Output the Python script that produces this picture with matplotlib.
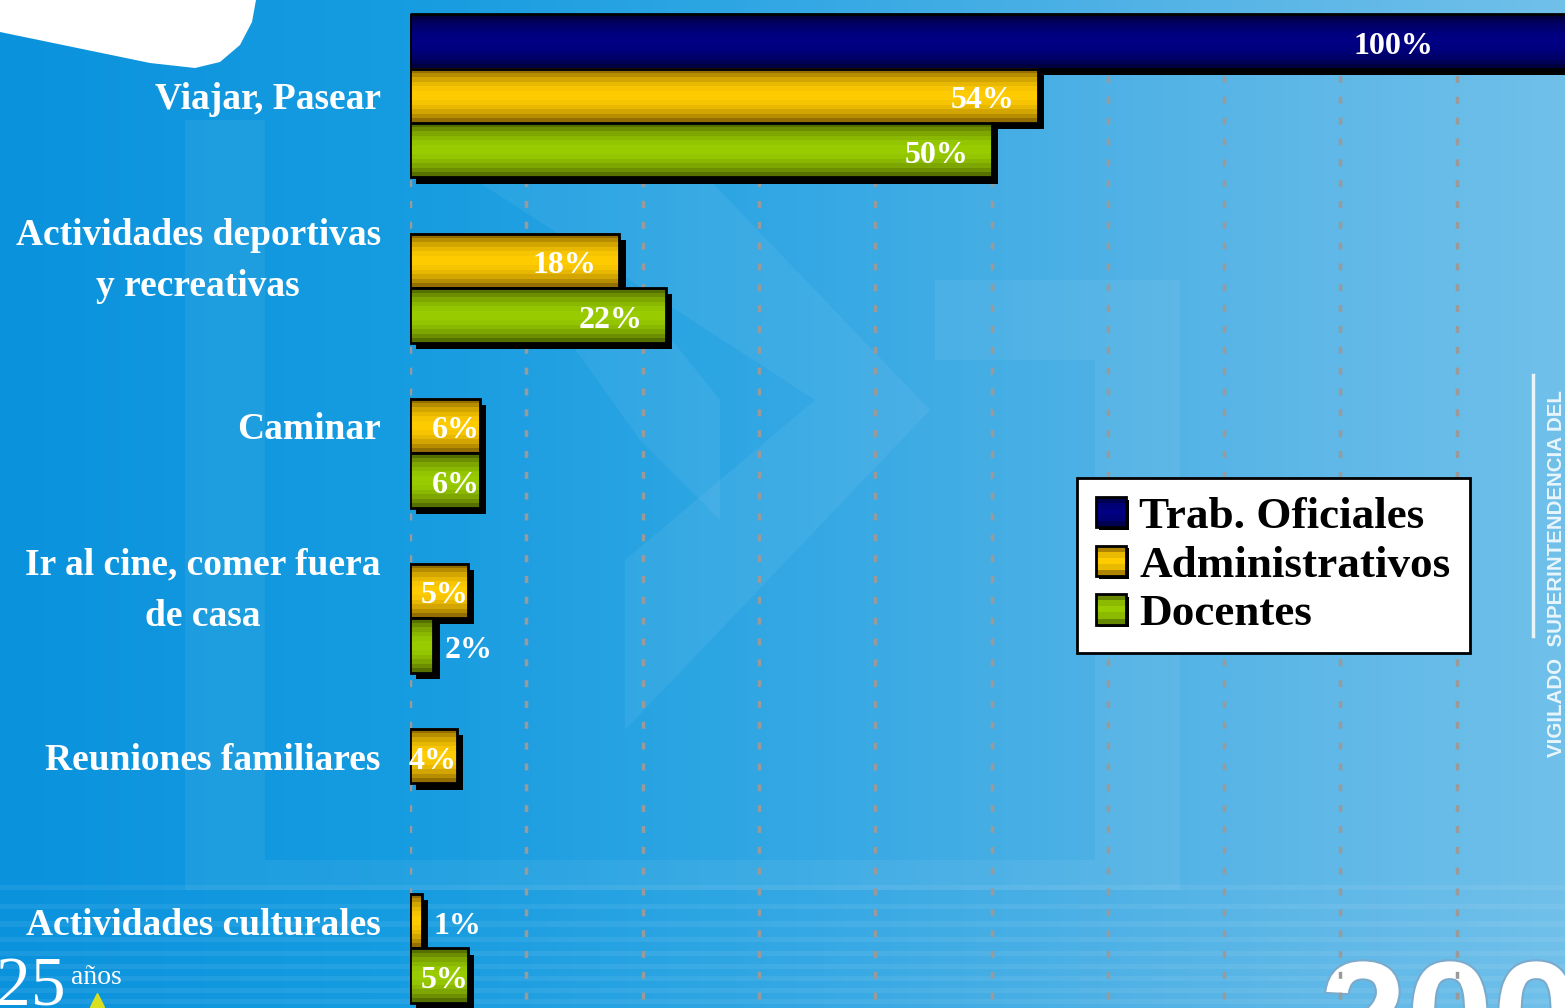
import numpy as np
import matplotlib
matplotlib.use('Agg')
import matplotlib.pyplot as plt
import matplotlib.colors as mcolors
from matplotlib import patheffects as pe
from matplotlib.patches import Polygon, Rectangle
from matplotlib.legend_handler import HandlerBase

# data
categories = ["Viajar, Pasear", "Actividades deportivas\ny recreativas", "Caminar",
              "Ir al cine, comer fuera\nde casa", "Reuniones familiares", "Actividades culturales"]
series_names = ["Trab. Oficiales", "Administrativos", "Docentes"]
trab_oficiales = [100, 0, 0, 0, 0, 0]
administrativos = [54, 18, 6, 5, 4, 1]
docentes = [50, 22, 6, 2, 0, 5]

# dark edge / bright centre of each bar gradient
dark_cols = ["#000030", "#7a5800", "#465a00"]
light_cols = ["#000084", "#ffcc00", "#99cc00"]

plt.rcParams['lines.scale_dashes'] = False
serif = 'Liberation Serif'


def grad(dark, light, n=12):
    t = (np.arange(n) + 0.5) / n
    w = np.sin(np.pi * t) ** 0.8
    d = np.array(mcolors.to_rgb(dark))
    l = np.array(mcolors.to_rgb(light))
    return d + (l - d) * w[:, None]


class GradHandler(HandlerBase):
    def __init__(self, dark, light):
        super().__init__()
        self.dark = dark
        self.light = light

    def create_artists(self, legend, orig_handle, xdescent, ydescent, width, height, fontsize, trans):
        x0, y0 = -xdescent, -ydescent
        arts = [Rectangle((x0 + 2, y0 - 2), width, height, fc='k', ec='none', transform=trans)]
        cols = grad(self.dark, self.light, 5)
        for k, c in enumerate(cols):
            arts.append(Rectangle((x0, y0 + height - (k + 1) * height / 5), width, height / 5,
                                  fc=c, ec='none', transform=trans))
        arts.append(Rectangle((x0, y0), width, height, fc='none', ec='k', lw=2, transform=trans))
        return arts


W, H = 1565, 1008
fig = plt.figure(figsize=(W / 100, H / 100), dpi=100)

# ---- background decoration ----
bg = fig.add_axes([0, 0, 1, 1], zorder=0)
bg.set_xlim(0, W)
bg.set_ylim(H, 0)
bg.axis('off')
xs = np.linspace(0, W, 300)
stops_x = [0, 400, 800, 1200, 1565]
stops_c = np.array([[10, 146, 221], [22, 156, 224], [52, 168, 228], [86, 180, 230], [112, 192, 234]]) / 255
grad_img = np.stack([np.interp(xs, stops_x, stops_c[:, k]) for k in range(3)], axis=-1)[None, :, :]
bg.imshow(grad_img, extent=(0, W, H, 0), aspect='auto')

shapes = [
    [(185, 120), (265, 120), (265, 860), (1095, 860), (1095, 890), (185, 890)],
    [(460, 170), (700, 170), (930, 410), (625, 730), (625, 560), (815, 400)],
    [(540, 300), (640, 300), (720, 400), (720, 520), (640, 440)],
    [(935, 280), (1180, 280), (1180, 890), (1095, 890), (1095, 360), (935, 360)],
]
for s in shapes:
    bg.add_patch(Polygon(s, closed=True, fc='white', ec='none', alpha=0.06))
for yy, hh in [(885, 5), (904, 5), (921, 6), (937, 5), (951, 5), (964, 5), (976, 5), (988, 5), (999, 5)]:
    bg.add_patch(Rectangle((0, yy), W, hh, fc='white', ec='none', alpha=0.07))

bg.add_patch(Polygon([(0, 0), (256, 0), (252, 22), (240, 45), (220, 62), (195, 68),
                      (150, 63), (0, 32)], closed=True, fc='white', ec='none'))
bg.text(-4, 1006, "25", fontsize=50, family=serif, color='white', ha='left', va='baseline')
bg.text(71, 984, "años", fontsize=20, family=serif, color='white', ha='left', va='baseline')
bg.plot([97], [1000], marker='^', ms=10, color='#d8e020', mec='#d8e020')
bg.text(1320, 1070, "2009", fontsize=112, family='Liberation Sans', weight='bold',
        color='white', ha='left', va='baseline',
        path_effects=[pe.withStroke(linewidth=3, foreground='#7aaacc')])
bg.text(1557, 757, "VIGILADO  SUPERINTENDENCIA DEL", fontsize=14.8, family='Liberation Sans',
        weight='bold', color='white', alpha=0.85, rotation=90, ha='center', va='bottom')
bg.plot([1533, 1533], [375, 636], color='white', lw=2.5, alpha=0.85)

# ---- chart ----
ax = fig.add_axes([410 / W, 0, 1 - 410 / W, 1], zorder=1)
ax.set_facecolor('none')
h = 0.33
y = np.arange(len(categories))
all_series = [trab_oficiales, administrativos, docentes]
offsets = [-h, 0, h]

ax.vlines(np.arange(0, 100, 10), -0.5, 5.6, colors='#9a9a9a', linestyles=[(0, (5, 10))],
          linewidth=2.5, zorder=1)

for s, vals in enumerate(all_series):
    for i, v in enumerate(vals):
        if v <= 0:
            continue
        yc = y[i] + offsets[s]
        ax.barh(yc, v, height=h, color='k', zorder=2 + s,
                path_effects=[pe.SimplePatchShadow(offset=(4.5, -4.5), shadow_rgbFace='k', alpha=1.0),
                              pe.Normal()])
        ax.imshow(grad(dark_cols[s], light_cols[s])[:, None, :], extent=(0, v, yc + h / 2, yc - h / 2),
                  aspect='auto', interpolation='nearest', zorder=2 + s + 0.1)
        ax.barh(yc, v, height=h, fc='none', ec='k', lw=2, zorder=2 + s + 0.2)
        if v >= 10:
            lx, ha = min(v, 90) - 2, 'right'
        elif v >= 3:
            lx, ha = v, 'right'
        else:
            lx, ha = v + 1, 'left'
        ax.text(lx, yc + 0.03, f"{v}%", fontsize=23, family=serif, weight='bold', color='white',
                ha=ha, va='center', zorder=6)

ax.set_xlim(0, 1155 / 11.63)
ax.set_ylim(5.526, -0.58)
ax.set_xticks([])
ax.set_yticks(y)
ax.set_yticklabels(categories)
ax.tick_params(axis='y', length=0, pad=21)
for lab in ax.get_yticklabels():
    lab.set_fontsize(27)
    lab.set_family(serif)
    lab.set_weight('bold')
    lab.set_color('white')
    lab.set_multialignment('center')
    lab.set_linespacing(1.6)
    if '\n' in lab.get_text():
        lab.set_va('center')
for sp in ax.spines.values():
    sp.set_visible(False)

handles = [Rectangle((0, 0), 1, 1) for _ in series_names]
leg = fig.legend(handles, series_names, loc='upper left', bbox_to_anchor=(1077 / W, 1 - 478 / H),
                 handler_map={hd: GradHandler(dark_cols[k], light_cols[k]) for k, hd in enumerate(handles)},
                 prop={'family': serif, 'weight': 'bold', 'size': 32.5},
                 frameon=True, fancybox=False, framealpha=1, edgecolor='k',
                 handlelength=0.66, handleheight=0.66, handletextpad=0.3,
                 borderpad=0.42, labelspacing=0.19, borderaxespad=0)
leg.get_frame().set_linewidth(2)
leg.set_zorder(10)

fig.savefig('out.png', dpi=100)
